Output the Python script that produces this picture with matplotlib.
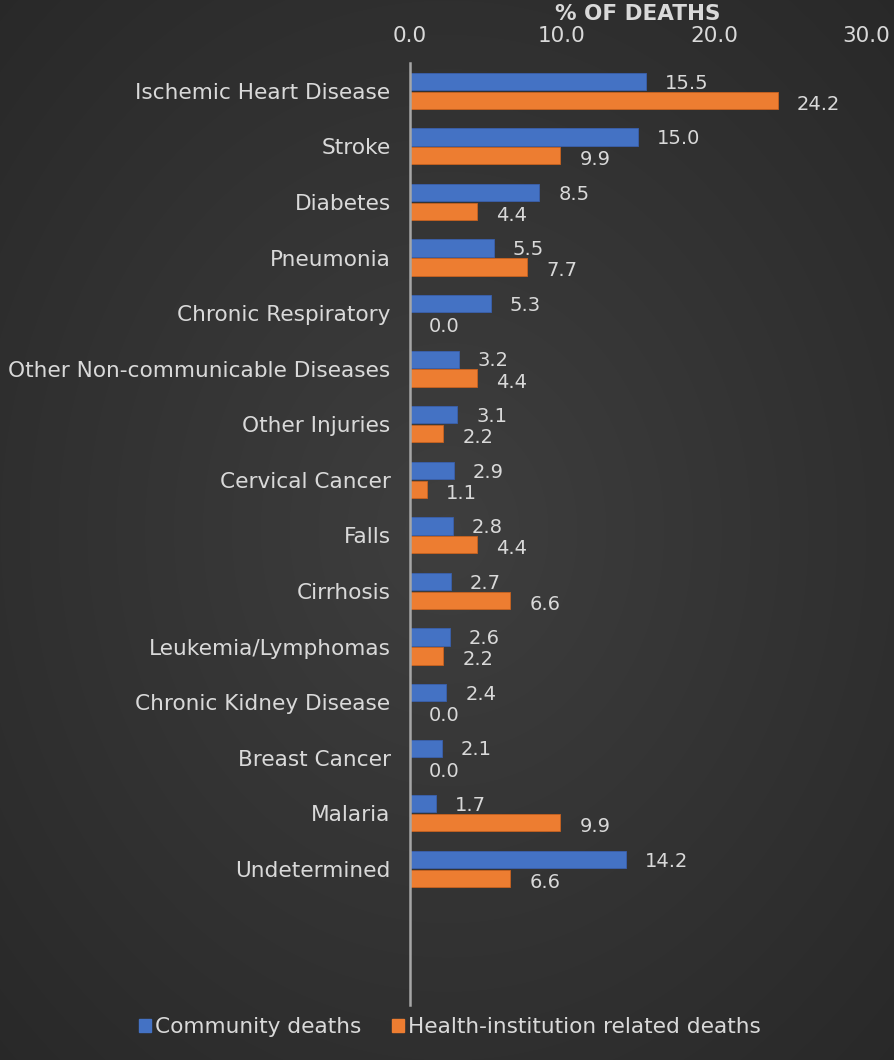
import numpy as np
import matplotlib
matplotlib.use("Agg")
import matplotlib.pyplot as plt
from matplotlib.patches import Patch

categories = ["Ischemic Heart Disease", "Stroke", "Diabetes", "Pneumonia",
              "Chronic Respiratory", "Other Non-communicable Diseases",
              "Other Injuries", "Cervical Cancer", "Falls", "Cirrhosis",
              "Leukemia/Lymphomas", "Chronic Kidney Disease", "Breast Cancer",
              "Malaria", "Undetermined"]
community = [15.5, 15.0, 8.5, 5.5, 5.3, 3.2, 3.1, 2.9, 2.8, 2.7, 2.6, 2.4, 2.1, 1.7, 14.2]
institution = [24.2, 9.9, 4.4, 7.7, 0.0, 4.4, 2.2, 1.1, 4.4, 6.6, 2.2, 0.0, 0.0, 9.9, 6.6]
xticks = [0.0, 10.0, 20.0, 30.0]
series_names = ["Community deaths", "Health-institution related deaths"]

W, H = 895, 1060
fig = plt.figure(figsize=(W / 100, H / 100), dpi=100)

# background radial gradient
bg = fig.add_axes([0, 0, 1, 1])
yy, xx = np.mgrid[0:H, 0:W]
r = np.sqrt(((xx - W * 0.5) / W) ** 2 + ((yy - H * 0.5) / H) ** 2)
val = 0.245 - 0.085 * np.clip(r / 0.7, 0, 1)
img = np.dstack([val, val, val])
bg.imshow(img, aspect="auto", extent=[0, 1, 0, 1])
bg.axis("off")

txt = "#d9d9d9"
blue = "#4472C4"
orange = "#ED7D31"

left, right = 410 / W, 866 / W
top, bottom = 1 - 63 / H, 1 - 1005 / H
ax = fig.add_axes([left, bottom, right - left, top - bottom])
ax.patch.set_alpha(0)

y = np.arange(len(categories))
h = 0.31
off = 0.17
ax.barh(y - off, community, height=h, color=blue, edgecolor="#3a60ad", linewidth=0.6)
ax.barh(y + off, institution, height=h, color=orange, edgecolor="#c9621f", linewidth=0.6)

for yi, v in zip(y, community):
    ax.text(v + 1.25, yi - off + 0.03, f"{v:.1f}", color=txt, fontsize=14, va="center", ha="left")
for yi, v in zip(y, institution):
    ax.text(v + 1.25, yi + off + 0.07, f"{v:.1f}", color=txt, fontsize=14, va="center", ha="left")

ax.set_xlim(0, 30)
ax.set_ylim(16.45, -0.5)
ax.xaxis.tick_top()
ax.set_xticks(xticks)
ax.set_xticklabels([f"{t:.1f}" for t in xticks], color=txt, fontsize=15.5)
ax.tick_params(axis="x", length=0, pad=12)
ax.set_yticks(y)
ax.set_yticklabels(categories, color=txt, fontsize=15.6)
ax.tick_params(axis="y", length=0, pad=14)
for s in ["top", "right", "bottom"]:
    ax.spines[s].set_visible(False)
ax.spines["left"].set_color("#a6a6a6")
ax.spines["left"].set_linewidth(1.8)

fig.text(638 / W, 1 - 14 / H, "% OF DEATHS", color=txt, fontsize=15.5,
         fontweight="bold", ha="center", va="center")

handles = [Patch(facecolor=blue, edgecolor=blue), Patch(facecolor=orange, edgecolor=orange)]
fig.legend(handles, series_names, loc="center", bbox_to_anchor=(450 / W, 1 - 1027 / H),
           ncol=2, frameon=False, fontsize=15.6, labelcolor=txt,
           handlelength=0.55, handleheight=0.55, handletextpad=0.2, columnspacing=1.4)

fig.savefig("out.png", dpi=100)
